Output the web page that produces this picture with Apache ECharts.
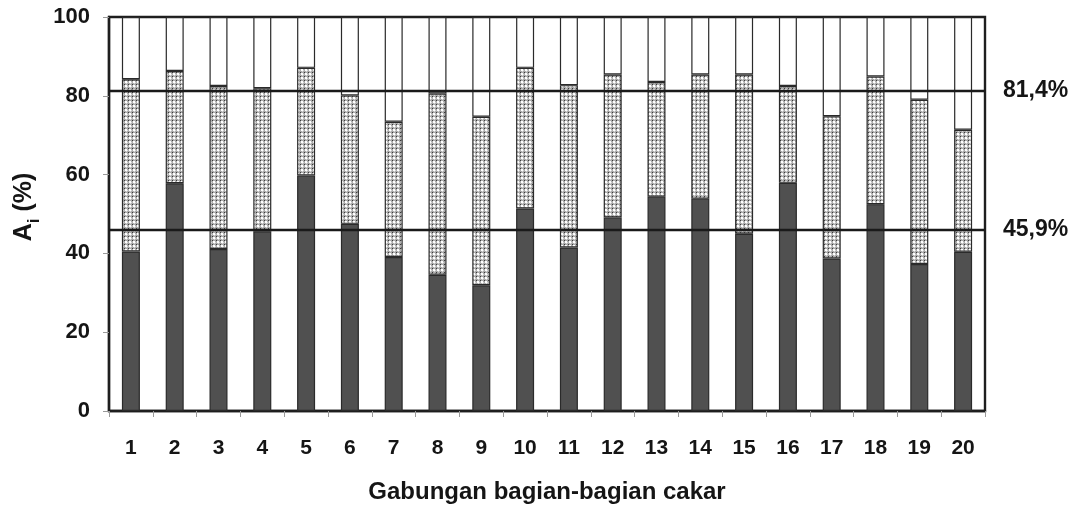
<!DOCTYPE html>
<html>
<head>
<meta charset="utf-8">
<script src="https://cdn.jsdelivr.net/npm/echarts@6/dist/echarts.min.js"></script>
<style>
html,body{margin:0;padding:0;background:#fff;}
#chart{width:1078px;height:509px;}
</style>
</head>
<body>
<div id="chart"></div>
<script>
// ---- data ----
var categories = ['1','2','3','4','5','6','7','8','9','10','11','12','13','14','15','16','17','18','19','20'];
var darkPart   = [40.5, 57.8, 41.1, 45.6, 59.8, 47.5, 39.1, 34.6, 31.9, 51.4, 41.5, 49.1, 54.4, 53.9, 45.0, 57.9, 38.7, 52.5, 37.3, 40.4];
var dottedPart = [43.7, 28.5, 41.4, 36.3, 27.3, 32.6, 34.3, 46.0, 42.8, 35.7, 41.2, 36.3, 29.1, 31.5, 40.4, 24.6, 36.1, 32.4, 41.7, 31.0];
var whitePart  = [15.8, 13.7, 17.5, 18.1, 12.9, 19.9, 26.6, 19.4, 25.3, 12.9, 17.3, 14.6, 16.5, 14.6, 14.6, 17.5, 25.2, 15.1, 21.0, 28.6];
var yTicks = [0, 20, 40, 60, 80, 100];
var refValues = [81.4, 45.9];
var refLabels = ['81,4%', '45,9%'];

// ---- dotted pattern ----
var pc = document.createElement('canvas');
pc.width = 4; pc.height = 4;
var pctx = pc.getContext('2d');
pctx.fillStyle = '#ababab';
pctx.fillRect(0, 0, 4, 4);
pctx.fillStyle = '#ffffff';
pctx.fillRect(1, 1, 2, 2);
pctx.fillStyle = '#3a3a3a';
pctx.fillRect(0, 0, 1, 1);
pctx.fillStyle = '#d8d8d8';
pctx.fillRect(3, 2, 1, 1);
pctx.fillRect(2, 3, 1, 1);

var FONT = '"Liberation Sans", Arial, sans-serif';
var TXT = '#151515';
var chart = echarts.init(document.getElementById('chart'), null, {renderer: 'canvas'});

var border = {borderColor: '#2a2a2a', borderWidth: 1.2};

chart.setOption({
  animation: false,
  backgroundColor: '#ffffff',
  grid: {left: 109, right: 93, top: 17, bottom: 96, show: true, borderColor: '#1e1e1e', borderWidth: 2.4, backgroundColor: 'transparent'},
  xAxis: {
    type: 'category',
    data: categories,
    axisLine: {lineStyle: {color: '#1e1e1e', width: 2.4}},
    axisTick: {show: true, length: 6, lineStyle: {color: '#999', width: 1}},
    axisLabel: {fontSize: 21, fontWeight: 'bold', color: TXT, margin: 27, fontFamily: FONT},
    name: 'Gabungan bagian-bagian cakar',
    nameLocation: 'middle',
    nameGap: 69,
    nameTextStyle: {fontSize: 24, fontWeight: 'bold', color: TXT, fontFamily: FONT}
  },
  yAxis: {
    type: 'value',
    min: yTicks[0],
    max: yTicks[yTicks.length - 1],
    interval: yTicks[1] - yTicks[0],
    splitLine: {show: false},
    axisLine: {show: true, lineStyle: {color: '#1e1e1e', width: 2.4}},
    axisTick: {show: true, length: 6, lineStyle: {color: '#999', width: 1}},
    axisLabel: {fontSize: 22, fontWeight: 'bold', color: TXT, margin: 19, fontFamily: FONT},
    name: '{a|A}{s|i}{a| (%)}',
    nameLocation: 'middle',
    nameGap: 72,
    nameTextStyle: {
      fontFamily: FONT,
      padding: [0, 0, 0, 14],
      rich: {
        a: {fontSize: 25, fontWeight: 'bold', color: TXT, fontFamily: FONT},
        s: {fontSize: 17, fontWeight: 'bold', color: TXT, fontFamily: FONT, verticalAlign: 'bottom', padding: [0, 0, -6, 0]}
      }
    }
  },
  series: [
    {
      type: 'bar', stack: 'total', data: darkPart, barWidth: 18,
      itemStyle: Object.assign({color: '#505050'}, border)
    },
    {
      type: 'bar', stack: 'total', data: dottedPart, barWidth: 18,
      itemStyle: Object.assign({color: {image: pc, repeat: 'repeat'}}, border)
    },
    {
      type: 'bar', stack: 'total', data: whitePart, barWidth: 18,
      itemStyle: Object.assign({color: '#ffffff'}, border),
      markLine: {
        silent: true,
        symbol: ['none', 'none'],
        lineStyle: {color: '#1a1a1a', width: 2.4, type: 'solid'},
        label: {
          show: true, position: 'end', distance: 18,
          fontSize: 23, fontWeight: 'bold', color: TXT, fontFamily: FONT,
          formatter: function (p) { return refLabels[p.dataIndex]; }
        },
        data: refValues.map(function (v) { return {yAxis: v}; })
      }
    }
  ]
});
</script>
</body>
</html>
